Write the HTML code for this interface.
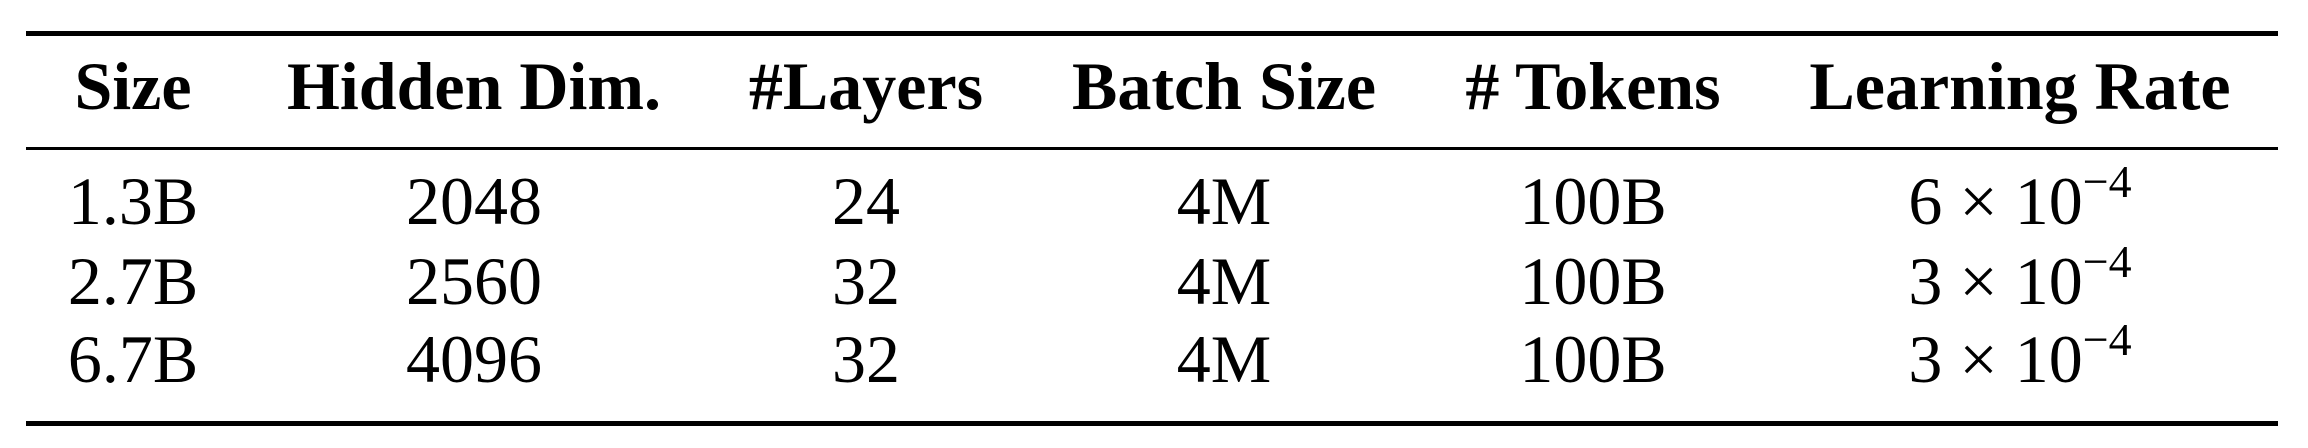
<!DOCTYPE html>
<html><head><meta charset="utf-8"><style>
html,body{margin:0;padding:0;background:#fff;}
#t{position:relative;width:2308px;height:448px;overflow:hidden;font-family:"Liberation Serif",serif;color:#000;}
.r{position:absolute;left:26px;width:2252px;background:#000;}
.c{position:absolute;transform:translateX(-50%);white-space:nowrap;font-size:68px;line-height:1;}
.h{font-weight:bold;}
sup{font-size:46px;position:relative;top:-8px;vertical-align:top;}
</style></head><body>
<div id="t">
<div class="r" style="top:31px;height:5px"></div>
<div class="r" style="top:147px;height:3px"></div>
<div class="r" style="top:421px;height:5px"></div>
</div>
<script>
const headers=["Size","Hidden Dim.","#Layers","Batch Size","# Tokens","Learning Rate"];
const sizes=["1.3B","2.7B","6.7B"];
const hidden=["2048","2560","4096"];
const layers=["24","32","32"];
const batch=["4M","4M","4M"];
const tokens=["100B","100B","100B"];
const lrMant=["6","3","3"];
const lrExp=["−4","−4","−4"];
const colX=[133,474,866,1224,1593,2020];
const t=document.getElementById('t');
function put(txt,x,base,cls,name){
  const d=document.createElement('div');
  d.className='c '+cls;
  d.style.left=x+'px';
  d.style.top=(base-60)+'px';
  d.innerHTML=txt;
  
  
  t.appendChild(d);
}
headers.forEach((h,i)=>put(h,colX[i],112,'h','header-'+i));
const rowsBase=[227,307,385];
for(let r=0;r<3;r++){
  const cells=[sizes[r],hidden[r],layers[r],batch[r],tokens[r],lrMant[r]+' × 10<sup>'+lrExp[r]+'</sup>'];
  cells.forEach((c,i)=>put(c,colX[i],rowsBase[r],'','cell-r'+r+'-c'+i));
}
</script>
</body></html>
